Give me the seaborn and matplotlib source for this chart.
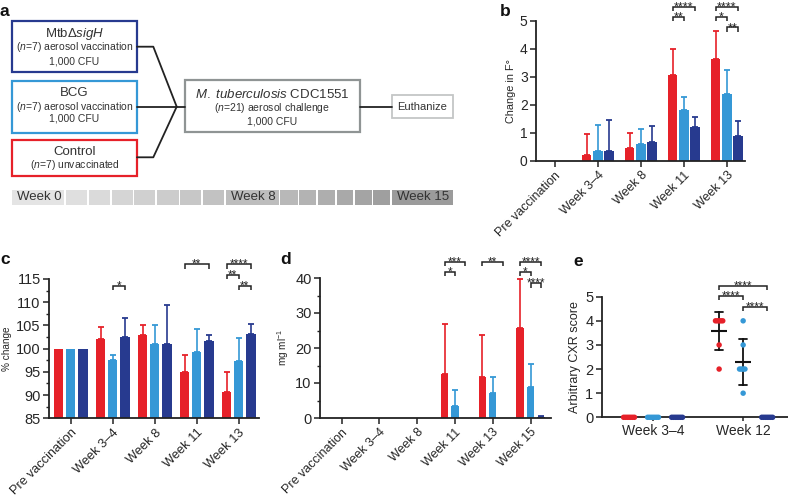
import numpy as np
import pandas as pd
import matplotlib
matplotlib.use("Agg")
import matplotlib.pyplot as plt
import matplotlib.transforms as mtransforms
from matplotlib.patches import Rectangle
from matplotlib.container import BarContainer
from matplotlib.ticker import MultipleLocator
import seaborn as sns

sns.set_style("ticks")
plt.rcParams["font.family"] = ["Liberation Sans", "DejaVu Sans"]
plt.rcParams["mathtext.fontset"] = "custom"
plt.rcParams["mathtext.rm"] = "Liberation Sans"
plt.rcParams["mathtext.it"] = "Liberation Sans:italic"
plt.rcParams["mathtext.bf"] = "Liberation Sans:bold"

# ---------------- data ----------------
groups = ["Control", "BCG", "MtbΔsigH"]
colors = ["#e62129", "#3598d6", "#273a8f"]

# panel b: change in body temperature
b_categories = ["Pre vaccination", "Week 3–4", "Week 8", "Week 11", "Week 13"]
b_control = [0, 0.21, 0.45, 3.06, 3.62]
b_control_err = [0, 0.75, 0.55, 0.92, 1.00]
b_bcg = [0, 0.37, 0.62, 1.81, 2.40]
b_bcg_err = [0, 0.92, 0.53, 0.47, 0.85]
b_sigh = [0, 0.34, 0.68, 1.22, 0.90]
b_sigh_err = [0, 1.12, 0.56, 0.35, 0.51]
b_sig = [("Week 11", 0, 2, "****"), ("Week 11", 0, 1, "**"),
         ("Week 13", 0, 2, "****"), ("Week 13", 0, 1, "*"), ("Week 13", 1, 2, "**")]

# panel c: % change in body weight
c_categories = ["Pre vaccination", "Week 3–4", "Week 8", "Week 11", "Week 13"]
c_control = [100, 102.1, 102.9, 94.9, 90.7]
c_control_err = [0, 2.6, 2.3, 3.7, 4.3]
c_bcg = [100, 97.6, 101.1, 99.2, 97.3]
c_bcg_err = [0, 1.1, 4.0, 5.0, 4.9]
c_sigh = [100, 102.6, 101.1, 101.6, 103.2]
c_sigh_err = [0, 3.9, 8.4, 1.3, 2.1]
c_sig = [("Week 3–4", 1, 2, "*"), ("Week 11", 0, 2, "**"),
         ("Week 13", 0, 2, "****"), ("Week 13", 0, 1, "**"), ("Week 13", 1, 2, "**")]

# panel d: CRP (mg/ml)
d_categories = ["Pre vaccination", "Week 3–4", "Week 8", "Week 11", "Week 13", "Week 15"]
d_control = [0, 0, 0, 12.6, 11.8, 25.8]
d_control_err = [0, 0, 0, 14.3, 11.8, 13.9]
d_bcg = [0, 0, 0, 3.4, 7.1, 8.8]
d_bcg_err = [0, 0, 0, 4.7, 4.5, 6.6]
d_sigh = [0, 0, 0, 0, 0, 0.3]
d_sigh_err = [0, 0, 0, 0, 0, 0.2]
d_sig = [("Week 11", 0, 2, "***"), ("Week 11", 0, 1, "*"), ("Week 13", 0, 2, "**"),
         ("Week 15", 0, 2, "****"), ("Week 15", 0, 1, "*"), ("Week 15", 1, 2, "****")]

# panel e: CXR scores
e_categories = ["Week 3–4", "Week 12"]
e_control_w34 = [0, 0, 0, 0, 0, 0, 0]
e_control_w12 = [4, 4, 4, 4, 4, 3, 2]
e_bcg_w34 = [0, 0, 0, 0, 0, 0, 0]
e_bcg_w12 = [4, 3, 2, 2, 2, 2, 1]
e_sigh_w34 = [0, 0, 0, 0, 0, 0, 0]
e_sigh_w12 = [0, 0, 0, 0, 0, 0, 0]
e_sig = [(0, 2, "****"), (0, 1, "****"), (1, 2, "****")]

W, H = 788, 497
fig = plt.figure(figsize=(W / 100, H / 100), dpi=100)

def px_axes(left, top, right, bottom):
    return fig.add_axes([left / W, 1 - bottom / H, (right - left) / W, (bottom - top) / H])

AXC = "#222222"

def style(ax, xlim, ylim, major, minor=None, ylabel="", ylfs=8, ytickfs=10, ylabel_x=None):
    ax.set_xlim(*xlim)
    ax.set_ylim(*ylim)
    ax.yaxis.set_major_locator(MultipleLocator(major))
    if minor:
        ax.yaxis.set_minor_locator(MultipleLocator(minor))
    sns.despine(ax=ax)
    for s in ("left", "bottom"):
        ax.spines[s].set_linewidth(1.3)
        ax.spines[s].set_color(AXC)
    ax.tick_params(axis="both", which="major", length=4, width=1.1, color=AXC,
                   pad=2, labelcolor="#262626")
    ax.tick_params(axis="y", which="major", labelsize=ytickfs)
    ax.tick_params(axis="y", which="minor", length=2.5, width=1.0, color=AXC)
    ax.set_xlabel("")
    ax.set_ylabel(ylabel, fontsize=ylfs, labelpad=3, color="#262626")
    if ylabel_x is not None:
        ax.yaxis.set_label_coords(ylabel_x, 0.5)
    ax.patch.set_alpha(0)

def px_to_data_dy(ax, px):
    y0 = ax.transData.inverted().transform((0, 0))[1]
    y1 = ax.transData.inverted().transform((0, px))[1]
    return y1 - y0

def bracket(ax, x1, x2, y, text, fs=8.5, tick=4.5):
    dy = px_to_data_dy(ax, tick)
    ax.plot([x1, x1, x2, x2], [y - dy, y, y, y - dy], color=AXC, lw=1.1,
            clip_on=False, solid_capstyle="butt", solid_joinstyle="miter")
    tr = mtransforms.offset_copy(ax.transData, fig=fig, x=0, y=-3.6, units="dots")
    ax.text((x1 + x2) / 2, y, text, ha="center", va="baseline", fontsize=fs,
            color=AXC, transform=tr, clip_on=False)

def bar_panel(ax, cats, vals, errs, width, gap):
    df = pd.DataFrame({
        "category": cats * 3,
        "group": [g for g in groups for _ in cats],
        "value": [v for series in vals for v in series],
    })
    sns.barplot(data=df, x="category", y="value", hue="group", hue_order=groups,
                order=cats, palette=colors, errorbar=None, width=width, gap=gap,
                saturation=1, legend=False, ax=ax, zorder=2)
    bar_conts = [c for c in ax.containers if isinstance(c, BarContainer)]
    centers = {}
    for gi, cont in enumerate(bar_conts):
        for ci, patch in enumerate(cont.patches):
            patch.set_edgecolor("none")
            xc = patch.get_x() + patch.get_width() / 2
            centers[(cats[ci], gi)] = xc
            e = errs[gi][ci]
            if e > 0:
                ax.errorbar([xc], [vals[gi][ci]], yerr=[[0], [e]], fmt="none",
                            ecolor=colors[gi], elinewidth=1.2, capsize=2.2,
                            capthick=1.3, zorder=1.5)
    return centers

def rotated_labels(ax, cats, fs):
    ax.set_xticks(range(len(cats)))
    ax.set_xticklabels(cats, rotation=45, ha="right", rotation_mode="anchor", fontsize=fs)

# ---------------- panel a (diagram) ----------------
axa = fig.add_axes([0, 0, 1, 1])
axa.set_xlim(0, W)
axa.set_ylim(H, 0)
axa.axis("off")
axa.patch.set_alpha(0)

def box(x0, y0, x1, y1, ec, lw=1.6):
    axa.add_patch(Rectangle((x0, y0), x1 - x0, y1 - y0, fill=False, ec=ec, lw=lw))

TXT = "#333333"
box(12, 21, 137, 72, colors[2])
axa.text(74.5, 33.5, r"MtbΔ$\mathit{sigH}$", ha="center", va="center", fontsize=9.5, color=TXT)
axa.text(74.5, 47.5, r"($\mathit{n}$=7) aerosol vaccination", ha="center", va="center", fontsize=7.5, color=TXT)
axa.text(74.5, 61, "1,000 CFU", ha="center", va="center", fontsize=7.5, color=TXT)

box(12, 81, 137, 133, colors[1])
axa.text(74.5, 93.5, "BCG", ha="center", va="center", fontsize=9.5, color=TXT)
axa.text(74.5, 107, r"($\mathit{n}$=7) aerosol vaccination", ha="center", va="center", fontsize=7.5, color=TXT)
axa.text(74.5, 118.5, "1,000 CFU", ha="center", va="center", fontsize=7.5, color=TXT)

box(12, 140, 137, 176, colors[0])
axa.text(74.5, 152, "Control", ha="center", va="center", fontsize=9.5, color=TXT)
axa.text(74.5, 164.5, r"($\mathit{n}$=7) unvaccinated", ha="center", va="center", fontsize=7.5, color=TXT)

box(185, 80, 360, 132, "#8f9494")
axa.text(272.5, 94.5, r"$\mathit{M.\ tuberculosis}$ CDC1551", ha="center", va="center", fontsize=9.5, color=TXT)
axa.text(272.5, 108, r"($\mathit{n}$=21) aerosol challenge", ha="center", va="center", fontsize=7.5, color=TXT)
axa.text(272.5, 121, "1,000 CFU", ha="center", va="center", fontsize=7.5, color=TXT)

box(392, 95, 453, 118, "#c4c6c6", lw=1.3)
axa.text(422.5, 106.5, "Euthanize", ha="center", va="center", fontsize=8, color=TXT)

LC = "#222222"
axa.plot([137, 153.3, 176.7], [46.7, 46.7, 106.7], color=LC, lw=1.3)
axa.plot([137, 153.3, 176.7], [157.3, 157.3, 106.7], color=LC, lw=1.3)
axa.plot([137, 185], [106.7, 106.7], color=LC, lw=1.3)
axa.plot([360, 392], [106.7, 106.7], color=LC, lw=1.3)

# timeline
tl_edges = [12, 65, 88, 111, 133.5, 156, 179.3, 202, 225, 279.5, 298.3, 317, 336, 354, 372.7, 391, 453]
tl_labels = {0: "Week 0", 8: "Week 8", 15: "Week 15"}
n_cells = len(tl_edges) - 1
for i in range(n_cells):
    shade = (228 - i * 4.9) / 255
    x0 = tl_edges[i] + (0.6 if i > 0 else 0)
    x1 = tl_edges[i + 1] - 0.6 if i < n_cells - 1 else tl_edges[i + 1]
    axa.add_patch(Rectangle((x0, 189.5), x1 - x0, 15, color=(shade, shade, shade), lw=0))
    if i in tl_labels:
        axa.text(x0 + 5, 197.5, tl_labels[i], ha="left", va="center", fontsize=9.5, color="#333333")

# panel letters
for lab, (x, y) in {"a": (4, 12), "b": (505, 11), "c": (5, 260), "d": (285.7, 259), "e": (578, 261)}.items():
    axa.text(x, y, lab, ha="center", va="center", fontsize=12.5, fontweight="bold", color="#111111")

# ---------------- panel b ----------------
axb = px_axes(536, 20.7, 745, 161)
cb = bar_panel(axb, b_categories, [b_control, b_bcg, b_sigh],
               [b_control_err, b_bcg_err, b_sigh_err], width=0.79, gap=0.15)
style(axb, (-0.44, 4.42), (0, 5), 1, ylabel="Change in F°", ylfs=7.8, ytickfs=10)
rotated_labels(axb, b_categories, 9)
b_levels = [5.50, 5.14, 5.50, 5.14, 4.76]
for (cat, i, j, t), lv in zip(b_sig, b_levels):
    bracket(axb, cb[(cat, i)], cb[(cat, j)], lv, t, fs=9)

# ---------------- panel c ----------------
axc = px_axes(49, 279, 259, 418.3)
cc = bar_panel(axc, c_categories, [c_control, c_bcg, c_sigh],
               [c_control_err, c_bcg_err, c_sigh_err], width=0.86, gap=0.23)
style(axc, (-0.52, 4.48), (85, 115), 5, minor=2.5, ylabel="% change", ylfs=7.2,
      ytickfs=10.5, ylabel_x=-0.178)
rotated_labels(axc, c_categories, 9.3)
c_levels = [113.6, 118.2, 118.2, 115.9, 113.5]
for (cat, i, j, t), lv in zip(c_sig, c_levels):
    bracket(axc, cc[(cat, i)], cc[(cat, j)], lv, t)

# ---------------- panel d ----------------
axd = px_axes(320, 278, 551, 418)
cd = bar_panel(axd, d_categories, [d_control, d_bcg, d_sigh],
               [d_control_err, d_bcg_err, d_sigh_err], width=0.83, gap=0.3)
style(axd, (-0.57, 5.54), (0, 40), 10, minor=5, ylabel="mg ml$^{-1}$", ylfs=7.2, ytickfs=10.5)
rotated_labels(axd, d_categories, 9)
d_levels = [44.6, 41.8, 44.6, 44.6, 41.8, 38.5]
for (cat, i, j, t), lv in zip(d_sig, d_levels):
    bracket(axd, cd[(cat, i)], cd[(cat, j)], lv, t)

# ---------------- panel e ----------------
axe = px_axes(601.7, 296.7, 790, 417.3)
e_rows = []
for g, w34, w12 in zip(groups, [e_control_w34, e_bcg_w34, e_sigh_w34],
                       [e_control_w12, e_bcg_w12, e_sigh_w12]):
    e_rows += [(e_categories[0], g, v) for v in w34]
    e_rows += [(e_categories[1], g, v) for v in w12]
edf = pd.DataFrame(e_rows, columns=["week", "group", "score"])

sns.pointplot(data=edf, x="week", y="score", hue="group", hue_order=groups, order=e_categories,
              palette=["#111111"] * 3, errorbar="sd", dodge=0.5334, markers="_",
              linestyles="none", capsize=0.09, err_kws={"linewidth": 1.3},
              markersize=11.5, markeredgewidth=1.5, legend=False, ax=axe, zorder=2)
n_before = len(axe.collections)
sns.swarmplot(data=edf, x="week", y="score", hue="group", hue_order=groups, order=e_categories,
              palette=colors, dodge=True, size=1.3, legend=False, ax=axe, zorder=4,
              clip_on=False, linewidth=0)
# freeze the beeswarm layout, then show the points at their real size
fig.canvas.draw()
for coll in axe.collections[n_before:]:
    if "draw" in coll.__dict__:
        del coll.draw
    coll.set_sizes([15.5])
style(axe, (-0.57, 1.52), (0, 5), 1, ylabel="Arbitrary CXR score", ylfs=9, ytickfs=10.5)
axe.set_xticks(range(len(e_categories)))
axe.set_xticklabels(e_categories, fontsize=10)
axe.tick_params(axis="x", length=3)
e_levels = [5.46, 5.03, 4.59]
ce = {i: 1 + (i - 1) * 0.2667 for i in range(3)}
for (i, j, t), lv in zip(e_sig, e_levels):
    bracket(axe, ce[i], ce[j], lv, t)

fig.savefig("out.png", dpi=100)
